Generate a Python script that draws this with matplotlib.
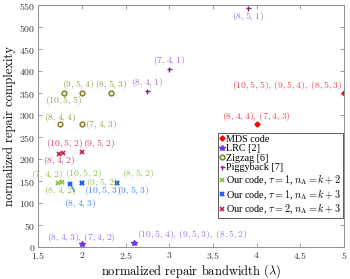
import numpy as np
import matplotlib
matplotlib.use("Agg")
from matplotlib import pyplot as plt
from matplotlib.ticker import FuncFormatter

# values (x: normalized repair bandwidth, y: complexity)
mdsX = [5.0, 4.0]
mdsY = [350, 280]
mdsLabels = [r'$(10,5,5),\,(9,5,4),\,(8,5,3)$', r'$(8,4,4),\,(7,4,3)$']

lrcX = [2.0, 2.6]
lrcY = [7, 11]
lrcLabels = [r'$(8,4,3),\,(7,4,2)$', r'$(10,5,4),\,(9,5,3),\,(8,5,2)$']

zigX = [1.8, 2.0, 2.33, 1.75, 2.0]
zigY = [350, 350, 350, 280, 280]
zigLabels = [r'$(10,5,5)$', r'$(9,5,4)$', r'$(8,5,3)$', r'$(8,4,4)$', r'$(7,4,3)$']

pigX = [2.75, 3.0, 3.9]
pigY = [355, 405, 544]
pigLabels = [r'$(8,4,1)$', r'$(7,4,1)$', r'$(8,5,1)$']

# our code, tau = 1, nA = k + 2
g1X = [1.73, 1.77, 2.0, 2.0, 2.4]
g1Y = [146, 148, 147, 147, 147]
g1Labels = [r'$(7,4,2)$', r'$(8,4,2)$', r'$(10,5,2)$', r'$(9,5,2)$', r'$(8,5,2)$']

# our code, tau = 1, nA = k + 3
b1X = [1.87, 2.0, 2.4]
b1Y = [144, 146, 146]
b1Labels = [r'$(8,4,3)$', r'$(10,5,3)$', r'$(9,5,3)$']

# our code, tau = 2, nA = k + 3
r2X = [1.74, 1.78, 2.0]
r2Y = [213, 215, 217]
r2Labels = [r'$(8,4,2)$', r'$(10,5,2)$', r'$(9,5,2)$']

# label placement: (dx, dy) in points, horizontal alignment
mdsPos = [(-1.5, 6, 'right'), (0, 5.5, 'center')]
lrcPos = [(0, 5, 'center'), (2, 5.5, 'left')]
zigPos = [(-1, -5, 'center'), (-3, 6.5, 'center'), (0, 6.5, 'center'), (0, 5, 'center'), (2, 0, 'left')]
pigPos = [(0, 6, 'center'), (0, 6, 'center'), (0, -6.5, 'center')]
g1Pos = [(-8, 6.5, 'center'), (-1, -6, 'center'), (1.5, 6.5, 'center'), (3, 0, 'left'), (3.5, 7, 'left')]
r2Pos = [(0, -5, 'center'), (1, 6.5, 'center'), (1, 6, 'left')]
b1Pos = [(1.5, -5.5, 'left'), (0, -5.5, 'left')]

plt.rcParams['mathtext.fontset'] = 'cm'
plt.rcParams['axes.unicode_minus'] = False

fig = plt.figure(figsize=(3.5, 2.79), dpi=100)
ax = fig.add_axes([0.109, 0.113, 0.874, 0.868])

cMds, cMdsT = '#ff0000', '#f04050'
cLrc, cLrcT = '#7030f0', '#9a70f0'
cZig, cZigT = '#808020', '#9a9a48'
cPig, cPigT = '#802088', '#a070c0'
cG1, cG1T = '#80c040', '#90c050'
cB1, cB1T = '#2060ff', '#4080ff'
cR2, cR2T = '#c02040', '#d04060'

p1, = ax.plot(mdsX, mdsY, 'D', color=cMds, ms=2.6, ls='none')
p2, = ax.plot(lrcX, lrcY, '*', color=cLrc, ms=4.2, ls='none')
p3, = ax.plot(zigX, zigY, 'o', color=cZig, ms=3.4, mfc='none', mew=1.1, ls='none')
p4, = ax.plot(pigX, pigY, '+', color=cPig, ms=3.6, mew=1.0, ls='none')
p5, = ax.plot(g1X, g1Y, 'x', color=cG1, ms=2.8, mew=1.2, ls='none')
p6, = ax.plot(b1X, b1Y, 'x', color=cB1, ms=2.8, mew=1.5, ls='none')
p7, = ax.plot(r2X, r2Y, 'x', color=cR2, ms=2.8, mew=1.2, ls='none')

def putLabels(xs, ys, labels, pos, color):
    for i in range(0, len(pos)):
        dx, dy, ha = pos[i]
        ax.annotate(labels[i], (xs[i], ys[i]), xytext=(dx, dy), textcoords='offset points',
                    ha=ha, va='center', fontsize=7, color=color)

putLabels(mdsX, mdsY, mdsLabels, mdsPos, cMdsT)
putLabels(lrcX, lrcY, lrcLabels, lrcPos, cLrcT)
putLabels(zigX, zigY, zigLabels, zigPos, cZigT)
putLabels(pigX, pigY, pigLabels, pigPos, cPigT)
putLabels(g1X, g1Y, g1Labels, g1Pos, cG1T)
putLabels(r2X, r2Y, r2Labels, r2Pos, cR2T)
putLabels(b1X[1:], b1Y[1:], b1Labels[1:], b1Pos, cB1T)
# (8,4,3) sits below with a pointer line
ax.annotate(b1Labels[0], (b1X[0], b1Y[0]), xytext=(7, -14), textcoords='offset points',
            ha='center', va='center', fontsize=7, color=cB1T,
            arrowprops=dict(arrowstyle='-', color=cB1, lw=0.7, shrinkA=2, shrinkB=0))

ax.set_xlim([1.5, 5])
ax.set_ylim([0, 550])
ax.set_xticks(np.arange(1.5, 5.01, 0.5))
ax.set_yticks(np.arange(0, 551, 50))
ax.xaxis.set_major_formatter(FuncFormatter(lambda v, p: r'$%g$' % v))
ax.yaxis.set_major_formatter(FuncFormatter(lambda v, p: r'$%g$' % v))
ax.tick_params(direction='in', top=True, right=True, length=3, width=0.6,
               color='#909090', labelsize=7, labelcolor='#333333', pad=2)
for s in ax.spines.values():
    s.set_color('#909090')
    s.set_linewidth(0.7)

ax.set_xlabel(r'normalized repair bandwidth $(\lambda)$', fontsize=9, fontfamily='cmr10', labelpad=1)
ax.set_ylabel('normalized repair complexity', fontsize=9, fontfamily='cmr10', labelpad=2)

leg = ax.legend((p1, p2, p3, p4, p5, p6, p7),
                ('MDS code', 'LRC [2]', 'Zigzag [6]', 'Piggyback [7]',
                 r'Our code, $\tau=1$, $n_{\mathrm{A}}=k+2$',
                 r'Our code, $\tau=1$, $n_{\mathrm{A}}=k+3$',
                 r'Our code, $\tau=2$, $n_{\mathrm{A}}=k+3$'),
                loc='lower right', bbox_to_anchor=(0.997, 0.12),
                prop={'family': 'Liberation Serif', 'size': 7.3},
                handlelength=0.4, handletextpad=0.15, borderpad=0.2, labelspacing=0.03,
                fancybox=False, framealpha=1, edgecolor='#404040', borderaxespad=0)
leg.get_frame().set_linewidth(0.6)

plt.savefig('out.png', dpi=100)
